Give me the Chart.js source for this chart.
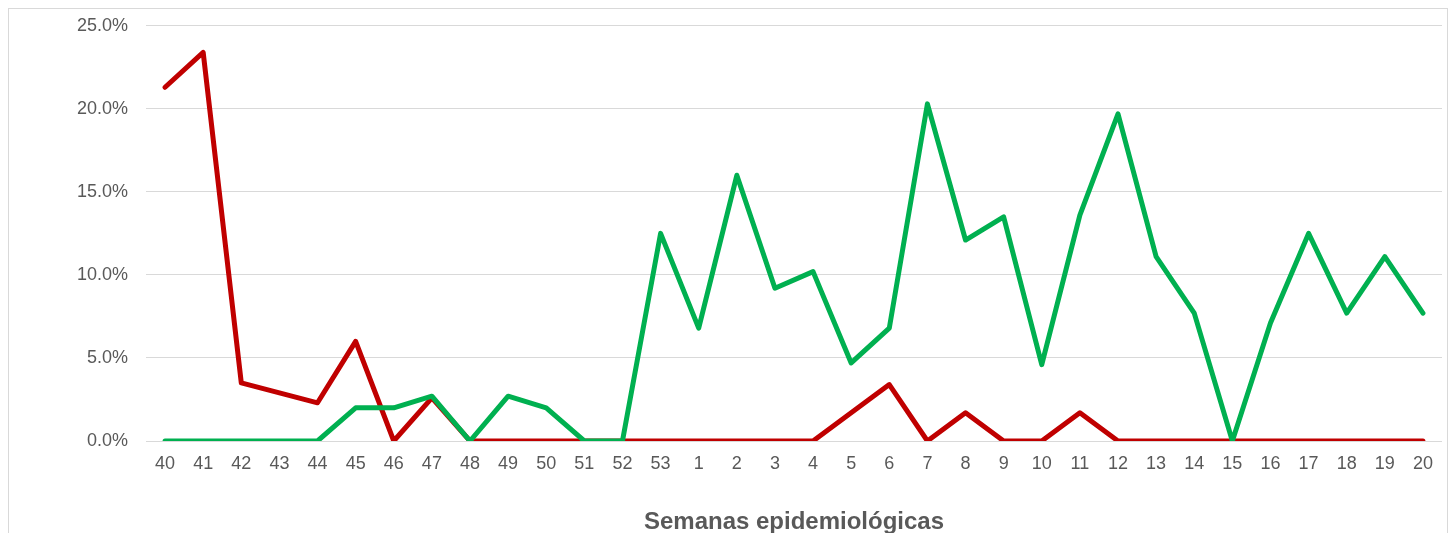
<!DOCTYPE html>
<html lang="es">
<head>
    <meta charset="UTF-8">
    <title>Semanas epidemiológicas</title>
    <script src="https://cdn.jsdelivr.net/npm/chart.js"></script>
    <style>
        body { margin: 0; background: #fff; overflow: hidden; }
        #wrap {
            position: absolute; left: 8px; top: 8px;
            width: 1438px; height: 550px;
            border: 1px solid #d9d9d9;
            overflow: hidden;
        }
        #chart { display: block; margin-top: -12px; }
    </style>
</head>
<body>
    <div id="wrap"><canvas id="chart" width="1438" height="562"></canvas></div>
    <script>
        // semanas 40-53 y 1-20
        const semanas = ['40', '41', '42', '43', '44', '45', '46', '47', '48', '49', '50', '51', '52', '53',
            '1', '2', '3', '4', '5', '6', '7', '8', '9', '10', '11', '12', '13', '14', '15', '16', '17', '18', '19', '20'];

        // serie verde (%)
        const serieVerde = [0, 0, 0, 0, 0, 2.0, 2.0, 2.7, 0, 2.7, 2.0, 0, 0, 12.5,
            6.8, 16.0, 9.2, 10.2, 4.7, 6.8, 20.3, 12.1, 13.5, 4.6, 13.6, 19.7, 11.1, 7.7, 0, 7.1, 12.5, 7.7, 11.1, 7.7];

        // serie roja (%)
        const serieRoja = [21.3, 23.4, 3.5, 2.9, 2.3, 6.0, 0, 2.6, 0, 0, 0, 0, 0, 0,
            0, 0, 0, 0, 1.7, 3.4, 0, 1.7, 0, 0, 1.7, 0, 0, 0, 0, 0, 0, 0, 0, 0];

        const yTicks = [0, 5, 10, 15, 20, 25];

        const fuente = "'Liberation Sans', Arial, sans-serif";

        new Chart(document.getElementById('chart'), {
            type: 'line',
            data: {
                labels: semanas,
                datasets: [{
                    data: serieVerde,
                    borderColor: '#00B050',
                    borderWidth: 5,
                    pointRadius: 0,
                    borderCapStyle: 'round',
                    borderJoinStyle: 'round',
                    tension: 0
                }, {
                    data: serieRoja,
                    borderColor: '#C00000',
                    borderWidth: 5,
                    pointRadius: 0,
                    borderCapStyle: 'round',
                    borderJoinStyle: 'round',
                    tension: 0
                }]
            },
            options: {
                responsive: false,
                animation: false,
                layout: { padding: { top: 5, right: 5, left: 0, bottom: 0 } },
                plugins: {
                    legend: { display: false },
                    tooltip: { enabled: false }
                },
                scales: {
                    x: {
                        offset: true,
                        grid: { display: false, drawTicks: false },
                        border: { display: false },
                        ticks: {
                            color: '#595959',
                            font: { family: fuente, size: 18 },
                            padding: 12,
                            maxRotation: 0,
                            autoSkip: false
                        },
                        title: {
                            display: true,
                            text: 'Semanas epidemiológicas',
                            color: '#595959',
                            font: { family: fuente, size: 24, weight: 'bold' },
                            padding: { top: 30, bottom: 22 }
                        },
                        afterFit: s => { s.height = 118; }
                    },
                    y: {
                        min: 0,
                        max: 25,
                        afterBuildTicks: s => { s.ticks = yTicks.map(v => ({ value: v })); },
                        grid: { color: '#d9d9d9', lineWidth: 1, drawTicks: false },
                        border: { display: false },
                        ticks: {
                            color: '#595959',
                            font: { family: fuente, size: 18 },
                            padding: 18,
                            callback: v => v.toFixed(1) + '%'
                        },
                        afterFit: s => { s.width = 137; }
                    }
                }
            }
        });
    </script>
</body>
</html>
